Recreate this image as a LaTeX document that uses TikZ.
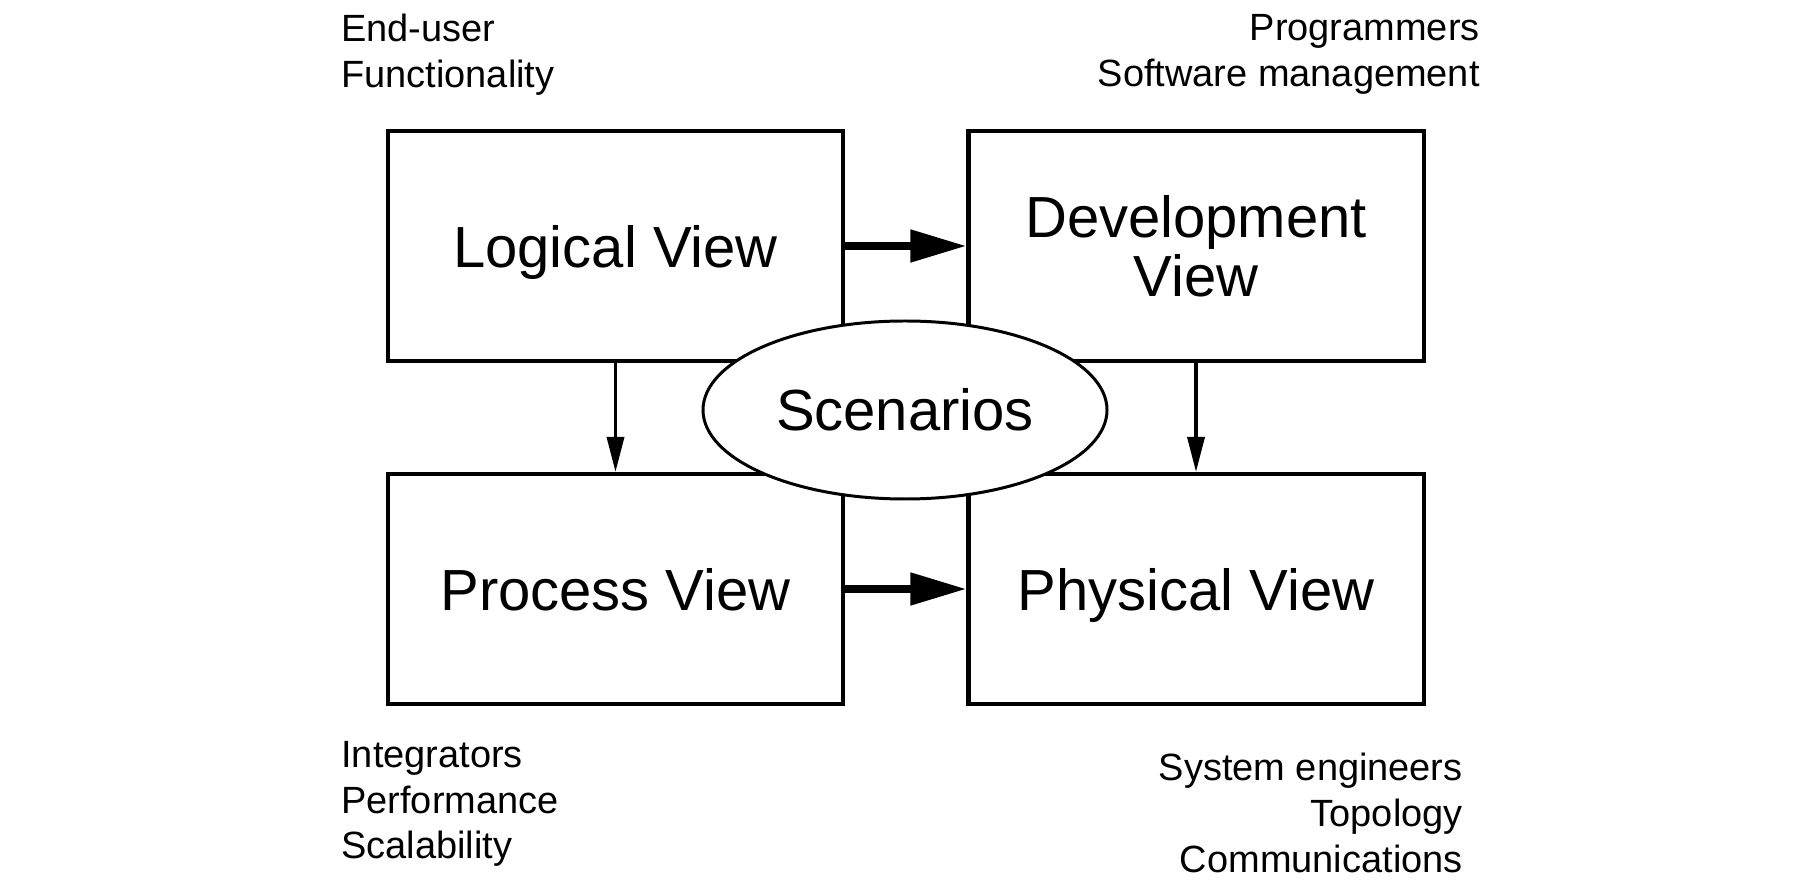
\documentclass[tikz,border=0pt]{standalone}
\usepackage{fontspec}
\setmainfont{Liberation Sans}
\usetikzlibrary{arrows.meta,shapes.geometric}

\begin{document}
\begin{tikzpicture}[
    viewbox/.style={draw, line width=2.3pt, minimum width=9.1cm, minimum height=4.6cm,
        align=center, font=\fontsize{33}{33.5}\selectfont},
    oneline/.style={text height=24pt, text depth=0pt},
    bigarrow/.style={line width=4.5pt, -{Triangle[length=1.12cm, width=0.62cm]}},
    thinarrow/.style={line width=2pt, -{Triangle[length=0.7cm, width=0.34cm]}},
    note/.style={inner sep=0pt, font=\fontsize{21.6}{26}\selectfont}
]
        % 画布范围
        \useasboundingbox (0, 0) rectangle (35.92, 17.84);

        % 绘制四个视图
        \node[viewbox, oneline] (logical) at (12.31, 12.92) {Logical View};
        \node[viewbox] (devel) at (23.92, 12.92) {Development\\View};
        \node[viewbox, oneline] (process) at (12.31, 6.06) {Process View};
        \node[viewbox, oneline] (physical) at (23.92, 6.06) {Physical View};

        % 绘制视图之间的箭头
        \draw[bigarrow] (logical) -- (devel);
        \draw[bigarrow] (process) -- (physical);
        \draw[thinarrow] (logical) -- (process);
        \draw[thinarrow] (devel) -- (physical);

        % 绘制中间的场景
        \node[ellipse, draw, fill=white, line width=1.7pt, minimum width=8.08cm, minimum height=3.56cm,
            font=\fontsize{33}{33.5}\selectfont] (scen) at (18.1, 9.64) {Scenarios};

        % 绘制各视图的说明文字
        \node[note, anchor=north west, align=left] (usertext) at (6.82, 17.56) {End-user\\Functionality};
        \node[note, anchor=north east, align=right] (progtext) at (29.6, 17.56) {Programmers\\Software management};
        \node[note, anchor=north west, align=left] (integtext) at (6.82, 3.02) {Integrators\\Performance\\Scalability};
        \node[note, anchor=north east, align=right] (systext) at (29.26, 2.78) {System engineers\\Topology\\Communications};
    \end{tikzpicture}
\end{document}
